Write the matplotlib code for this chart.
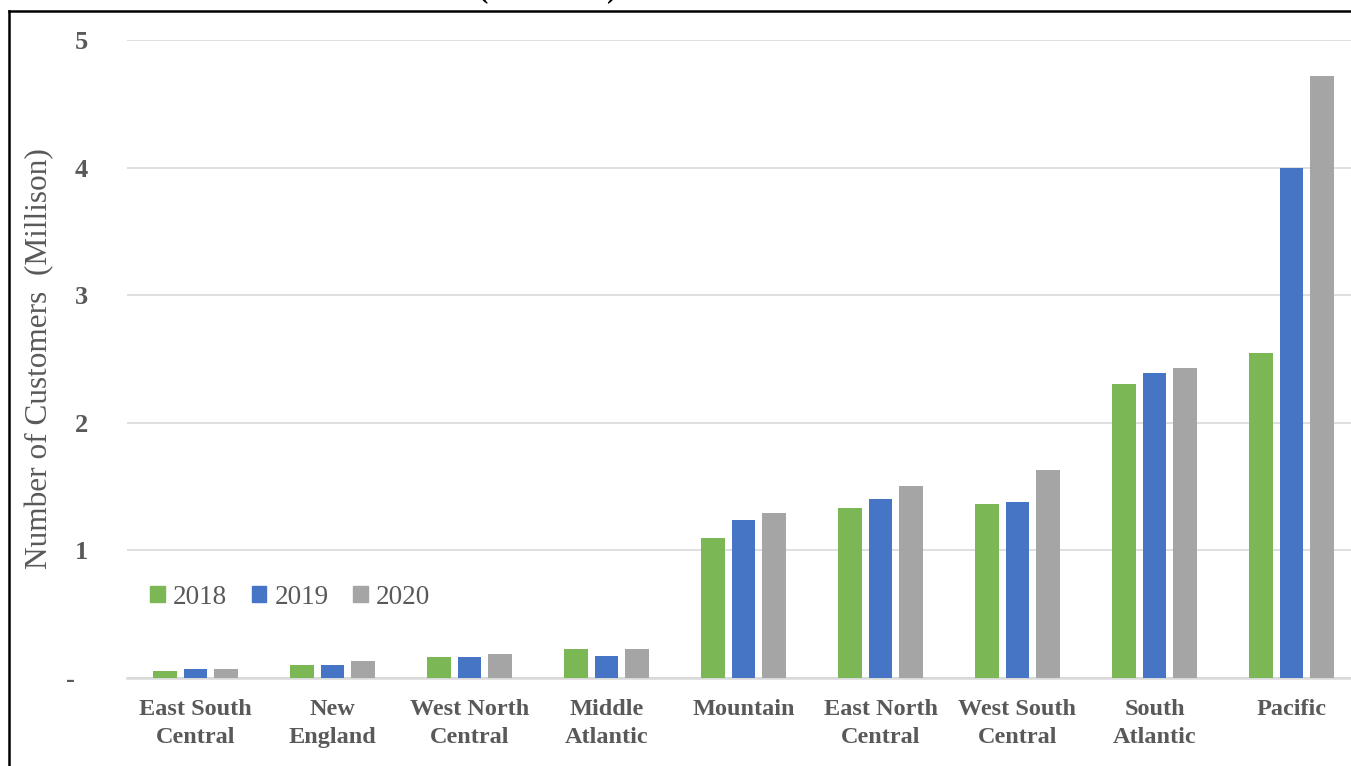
import numpy as np
import matplotlib
matplotlib.use('Agg')
import matplotlib.pyplot as plt
from matplotlib.lines import Line2D

regions = ['East South\nCentral', 'New\nEngland', 'West North\nCentral', 'Middle\nAtlantic',
           'Mountain', 'East North\nCentral', 'West South\nCentral', 'South\nAtlantic', 'Pacific']
years = ['2018', '2019', '2020']
cust_2018 = [0.057, 0.104, 0.167, 0.225, 1.094, 1.335, 1.361, 2.306, 2.55]
cust_2019 = [0.073, 0.104, 0.167, 0.175, 1.236, 1.406, 1.377, 2.39, 4.0]
cust_2020 = [0.073, 0.136, 0.190, 0.225, 1.290, 1.503, 1.628, 2.43, 4.715]
yticks = [0, 1, 2, 3, 4, 5]
ytick_labels = ['-  ', '1', '2', '3', '4', '5']

colors = ['#7cb755', '#4775c6', '#a5a5a5']
txt_color = '#595959'
W, H = 1351, 766

plt.rcParams['font.family'] = ['Liberation Serif', 'DejaVu Serif']

fig = plt.figure(figsize=(W / 100, H / 100), dpi=100)
ax = fig.add_axes([127 / W, (H - 678) / H, (1360 - 127) / W, (678 - 40) / H])

x = np.arange(len(regions))
bw = 0.175
step = 0.2226
for i, (vals, c) in enumerate(zip([cust_2018, cust_2019, cust_2020], colors)):
    ax.bar(x + (i - 1) * step, vals, width=bw, color=c, zorder=3)

ax.set_xlim(-0.5, len(regions) - 0.5)
ax.set_ylim(0, 5)
ax.set_yticks(yticks)
ax.set_yticklabels(ytick_labels)
ax.set_xticks(x)
ax.set_xticklabels(regions, linespacing=1.45)
ax.tick_params(axis='both', length=0, colors=txt_color)
ax.tick_params(axis='x', pad=15, labelsize=17.5)
ax.tick_params(axis='y', pad=28, labelsize=19)
for lab in ax.get_xticklabels() + ax.get_yticklabels():
    lab.set_fontweight('bold')

ax.grid(axis='y', color='#d9d9d9', linewidth=1.2, zorder=0)
for s in ['top', 'right', 'left']:
    ax.spines[s].set_visible(False)
ax.spines['bottom'].set_color('#d9d9d9')
ax.spines['bottom'].set_linewidth(1.8)

fig.text(40 / W, (H - 359) / H, 'Number of Customers  (Millison)', rotation=90,
         ha='center', va='center', fontsize=22.5, color=txt_color)

handles = [plt.Rectangle((0, 0), 1, 1, color=c) for c in colors]
fig.legend(handles, years, loc='center left', bbox_to_anchor=(150 / W, (H - 597) / H),
           ncol=3, frameon=False, fontsize=19.5, handlelength=0.55, handleheight=0.55,
           handletextpad=0.3, columnspacing=0.9, labelcolor=txt_color,
           borderaxespad=0, borderpad=0)

# cropped title peeking at the top edge
fig.text(548 / W, (H + 2) / H, '(2018-2020)', ha='center', va='baseline',
         fontsize=20, fontweight='bold', color='black')

# outer frame (top and left edges only, the rest is cropped)
fig.add_artist(Line2D([9 / W, 1], [(H - 11) / H, (H - 11) / H], color='black', linewidth=1.8))
fig.add_artist(Line2D([9 / W, 9 / W], [0, (H - 11) / H], color='black', linewidth=1.8))

fig.savefig('out.png', dpi=100)
